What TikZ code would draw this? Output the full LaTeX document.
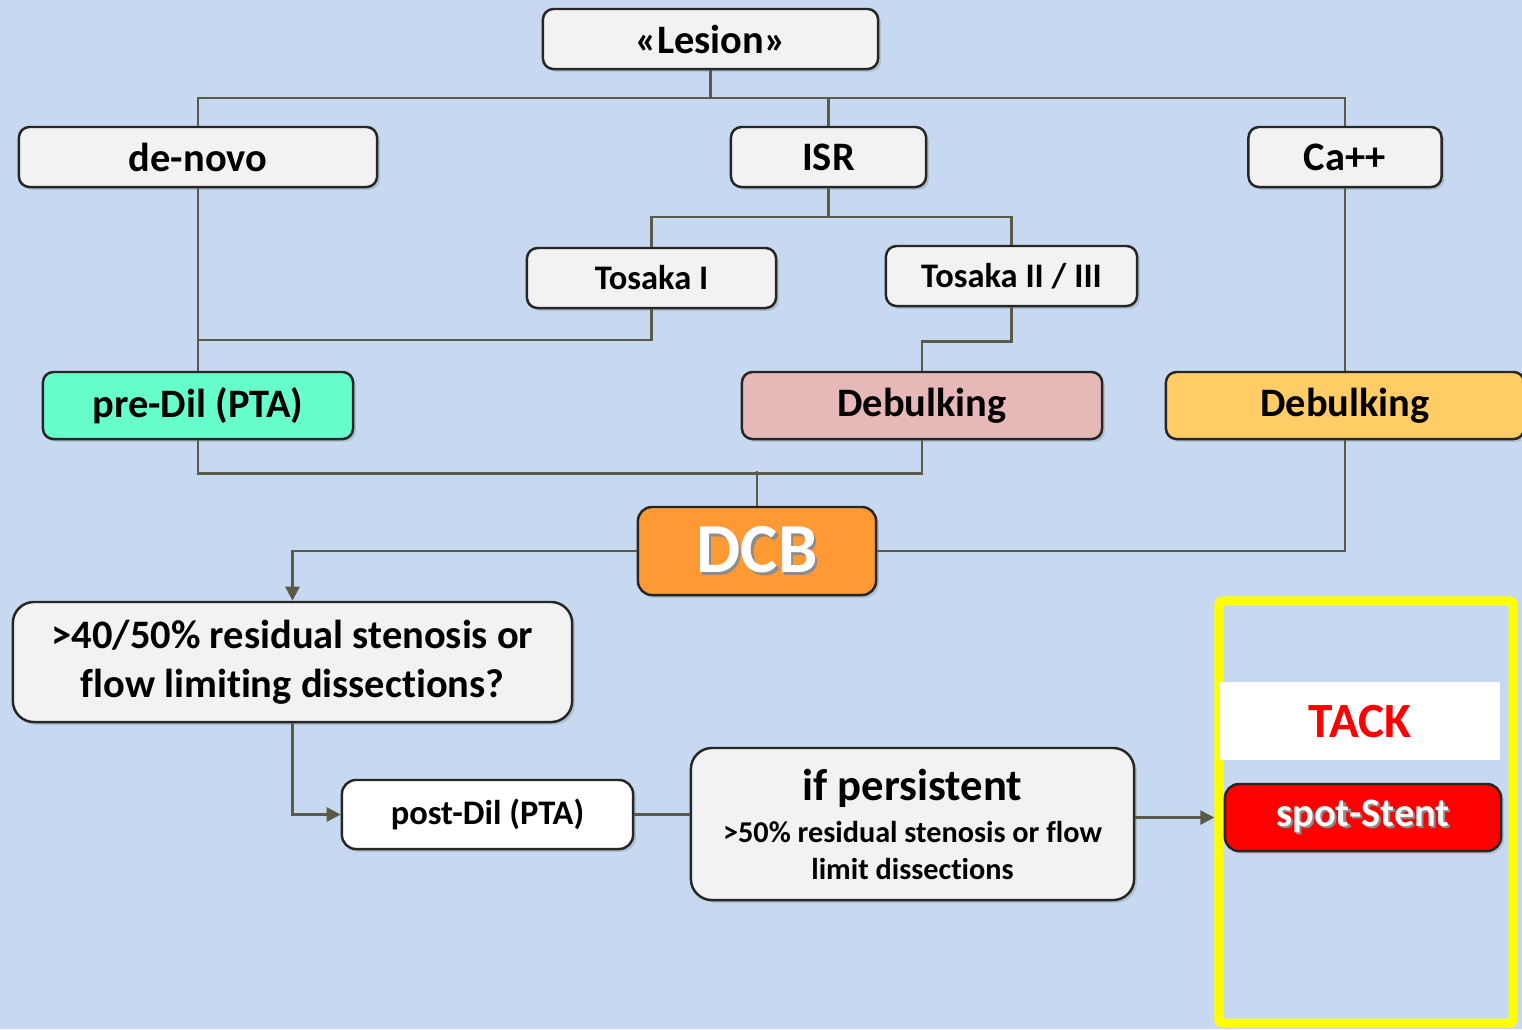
\documentclass[tikz,border=0pt]{standalone}
\usepackage{fontspec}
\setmainfont{Carlito}[Ligatures=NoCommon]
\usetikzlibrary{arrows.meta,shadows}

\definecolor{bgblue}{HTML}{C6D9F0}
\definecolor{boxgrey}{HTML}{F2F2F2}
\definecolor{linegrey}{HTML}{5A5A48}
\definecolor{predilgreen}{HTML}{66FFCC}
\definecolor{debpink}{HTML}{E6B8B7}
\definecolor{debyellow}{HTML}{FFCC66}
\definecolor{dcborange}{HTML}{FF9933}
\definecolor{stentred}{HTML}{FF0000}
\definecolor{frameyellow}{HTML}{FFFF00}

\begin{document}
\begin{tikzpicture}[x=0.01cm, y=-0.01cm,
    box/.style={draw=black!85, line width=0.7pt, fill=boxgrey, rounded corners=3pt, align=center, inner sep=0pt,
      font=\bfseries\fontsize{11.5}{14}\selectfont,
      drop shadow={opacity=0.3, shadow xshift=0.8pt, shadow yshift=-0.8pt}},
    smallbox/.style={box, font=\bfseries\fontsize{9.8}{12}\selectfont},
    link/.style={draw=linegrey, line width=0.7pt},
    arrow/.style={link, -{Triangle[length=4pt, width=4pt]}}
  ]
  % page and background
  \fill[bgblue] (0,0) rectangle (1522,1029);
  \useasboundingbox (0,0) rectangle (1522,1029);

  % first levels
  \node[box, minimum width=3.35cm, minimum height=0.60cm] (lesion) at (710.5,39) {«Lesion»};
  \node[box, minimum width=3.58cm, minimum height=0.60cm] (denovo) at (198,157) {de-novo};
  \node[box, minimum width=1.95cm, minimum height=0.60cm] (isr) at (828.5,157) {ISR};
  \node[box, minimum width=1.93cm, minimum height=0.60cm] (ca) at (1345,157) {Ca++};
  \node[smallbox, minimum width=2.49cm, minimum height=0.60cm] (tos1) at (651.5,278) {Tosaka I};
  \node[smallbox, minimum width=2.51cm, minimum height=0.60cm] (tos2) at (1011.5,276) {Tosaka II / III};

  % treatment
  \node[box, fill=predilgreen, minimum width=3.10cm, minimum height=0.67cm] (predil) at (198,405.5) {pre-Dil (PTA)};
  \node[box, fill=debpink, minimum width=3.60cm, minimum height=0.67cm] (deb1) at (922,405.5) {Debulking};
  \node[box, fill=debyellow, minimum width=3.58cm, minimum height=0.67cm] (deb2) at (1345,405.5) {Debulking};
  \node[box, fill=dcborange, rounded corners=4pt, minimum width=2.38cm, minimum height=0.88cm, text=white,
    font=\bfseries\fontsize{20}{22}\selectfont] (dcb) at (757,551)
    {\rlap{\hspace{0.7pt}\raisebox{-0.7pt}{\textcolor{black!45}{DCB}}}DCB};

  % after DCB
  \node[box, rounded corners=6pt, minimum width=5.59cm, minimum height=1.20cm] (resid) at (292.5,662)
    {>40/50\% residual stenosis or\\flow limiting dissections?};
  \node[smallbox, fill=white, rounded corners=4pt, minimum width=2.91cm, minimum height=0.69cm] (postdil) at (487.5,814.5) {post-Dil (PTA)};
  \node[box, rounded corners=6pt, minimum width=4.43cm, minimum height=1.52cm,
    font=\bfseries\fontsize{8.6}{10.5}\selectfont] (persist) at (912.5,824)
    {{\fontsize{12.7}{15}\selectfont if persistent}\\[1.5pt]
     >50\% residual stenosis or flow\\limit dissections};

  % bail-out
  \node[draw=frameyellow, line width=2.6pt, rounded corners=1pt, minimum width=2.94cm, minimum height=4.22cm, inner sep=0pt] (frame) at (1366,812) {};
  \node[fill=white, minimum width=2.80cm, minimum height=0.78cm, inner sep=0pt, text=stentred,
    font=\bfseries\fontsize{14}{16}\selectfont] (tack) at (1360,721) {TACK};
  \node[box, fill=stentred, rounded corners=4pt, minimum width=2.76cm, minimum height=0.67cm, text=white] (spot) at (1363,817.5)
    {\rlap{\hspace{0.6pt}\raisebox{-0.6pt}{\textcolor{black!45}{spot-Stent}}}spot-Stent};

  % tree
  \coordinate (j1) at (710.5,98);
  \coordinate (j2) at (828.5,217);
  \coordinate (j3) at (198,340);
  \draw[link] (lesion.south) -- (j1);
  \draw[link] (denovo.north) |- (j1) -| (ca.north);
  \draw[link] (isr.north) -- (isr.north |- j1);
  \draw[link] (isr.south) -- (j2);
  \draw[link] (tos1.north) |- (j2) -| (tos2.north);
  \draw[link] (denovo.south) -- (predil.north);
  \draw[link] (tos1.south) |- (j3);
  \draw[link] (tos2.south) -- ++(0,34) -| (deb1.north);
  \draw[link] (ca.south) -- (deb2.north);

  % to DCB
  \draw[link] (predil.south) -- ++(0,33) -| (deb1.south);
  \draw[link] (dcb.north) -- ++(0,-35);
  \draw[link] (deb2.south) |- (dcb.east);

  % after DCB
  \draw[arrow] (dcb.west) -| (resid.north);
  \draw[arrow] (resid.south) |- (postdil.west);
  \draw[link] (postdil.east) -- (postdil.east -| persist.west);
  \draw[arrow] (persist.east |- spot.west) -- (spot.west -| frame.west);
\end{tikzpicture}
\end{document}
